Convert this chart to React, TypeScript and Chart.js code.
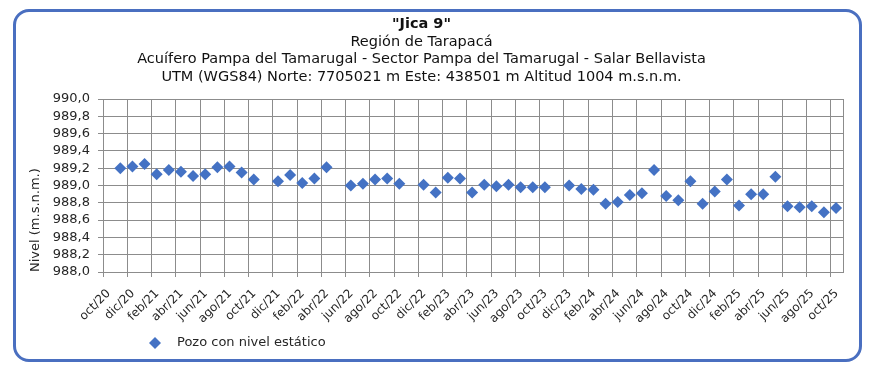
import React, { useEffect, useRef } from 'react';
import { Chart, registerables } from 'chart.js';

Chart.register(...registerables);

// ---- Chart content ----
const titleText = '"Jica 9"';
const subtitleLines = [
  'Región de Tarapacá',
  'Acuífero Pampa del Tamarugal - Sector Pampa del Tamarugal - Salar Bellavista',
  'UTM (WGS84) Norte: 7705021 m Este: 438501 m Altitud 1004 m.s.n.m.',
];
const seriesLabel = 'Pozo con nivel estático';
const yAxisTitle = 'Nivel (m.s.n.m.)';

// measurement dates (YYYY-MM-DD)
const measurementDates = [
  '2020-11-14', '2020-12-14', '2021-01-14', '2021-02-14', '2021-03-14', '2021-04-14',
  '2021-05-14', '2021-06-14', '2021-07-14', '2021-08-14', '2021-09-14', '2021-10-14',
  '2021-12-14', '2022-01-14', '2022-02-14', '2022-03-14', '2022-04-14',
  '2022-06-14', '2022-07-14', '2022-08-14', '2022-09-14', '2022-10-14',
  '2022-12-14', '2023-01-14', '2023-02-14', '2023-03-14', '2023-04-14', '2023-05-14',
  '2023-06-14', '2023-07-14', '2023-08-14', '2023-09-14', '2023-10-14',
  '2023-12-14', '2024-01-14', '2024-02-14', '2024-03-14', '2024-04-14', '2024-05-14',
  '2024-06-14', '2024-07-14', '2024-08-14', '2024-09-14', '2024-10-14', '2024-11-14',
  '2024-12-14', '2025-01-14', '2025-02-14', '2025-03-14', '2025-04-14', '2025-05-14',
  '2025-06-14', '2025-07-14', '2025-08-14', '2025-09-14', '2025-10-14',
];

// static level (m.s.n.m.)
const levels = [
  989.20, 989.22, 989.25, 989.13, 989.18, 989.16,
  989.11, 989.13, 989.21, 989.22, 989.15, 989.07,
  989.05, 989.12, 989.03, 989.08, 989.21,
  989.00, 989.02, 989.07, 989.08, 989.02,
  989.01, 988.92, 989.09, 989.08, 988.92, 989.01,
  988.99, 989.01, 988.98, 988.98, 988.98,
  989.00, 988.96, 988.95, 988.79, 988.81, 988.89,
  988.91, 989.18, 988.88, 988.83, 989.05, 988.79,
  988.93, 989.07, 988.77, 988.90, 988.90, 989.10,
  988.76, 988.75, 988.76, 988.69, 988.74,
];

const xTickLabels = [
  'oct/20', 'dic/20', 'feb/21', 'abr/21', 'jun/21', 'ago/21', 'oct/21', 'dic/21',
  'feb/22', 'abr/22', 'jun/22', 'ago/22', 'oct/22', 'dic/22', 'feb/23', 'abr/23',
  'jun/23', 'ago/23', 'oct/23', 'dic/23', 'feb/24', 'abr/24', 'jun/24', 'ago/24',
  'oct/24', 'dic/24', 'feb/25', 'abr/25', 'jun/25', 'ago/25', 'oct/25',
];

const yMin = 988.0;
const yMax = 990.0;
const yStep = 0.2;

// axis origin: 1 Oct 2020; axis end: 1 Nov 2025 (in months)
const originYear = 2020;
const originMonth = 10;
const xMaxMonths = 61;
const monthsPerTick = 2;

// ---- Styles ----
const FONT = 'DejaVu Sans';
const MARKER = '#4472C4';
const GRID = '#8c8c8c';
const TEXT = '#262626';
const FRAME = '#4a6fc0';

function monthOffset(date: string): number {
  const [y, m, d] = date.split('-').map(Number);
  return (y - originYear) * 12 + (m - originMonth) + (d - 1) / 30.5;
}

const fmtLevel = (v: number) => v.toFixed(1).replace('.', ',');

export default function App() {
  const canvasRef = useRef<HTMLCanvasElement | null>(null);

  useEffect(() => {
    document.body.style.margin = '0';
    const canvas = canvasRef.current;
    if (!canvas) return;

    const points = measurementDates.map((d, i) => ({ x: monthOffset(d), y: levels[i] }));
    const yTickCount = Math.round((yMax - yMin) / yStep) + 1;

    const framePlugin = {
      id: 'frameAndLegend',
      beforeDatasetsDraw(chart: any) {
        const { ctx, chartArea } = chart;
        ctx.save();
        ctx.strokeStyle = GRID;
        ctx.lineWidth = 1;
        ctx.strokeRect(
          Math.round(chartArea.left) + 0.5,
          Math.round(chartArea.top) + 0.5,
          Math.round(chartArea.right - chartArea.left),
          Math.round(chartArea.bottom - chartArea.top)
        );
        ctx.restore();
      },
      afterDraw(chart: any) {
        const { ctx } = chart;
        const ds = chart.data.datasets[0];
        const cx = 155;
        const cy = 343;
        const r = 6;
        ctx.save();
        ctx.fillStyle = ds.backgroundColor;
        ctx.beginPath();
        ctx.moveTo(cx - r, cy);
        ctx.lineTo(cx, cy - r);
        ctx.lineTo(cx + r, cy);
        ctx.lineTo(cx, cy + r);
        ctx.closePath();
        ctx.fill();
        ctx.fillStyle = TEXT;
        ctx.font = `13px "${FONT}"`;
        ctx.textBaseline = 'middle';
        ctx.textAlign = 'left';
        ctx.fillText(ds.label, 177, cy);
        ctx.restore();
      },
    };

    const chart = new Chart(canvas, {
      type: 'scatter',
      data: {
        datasets: [
          {
            label: seriesLabel,
            data: points,
            showLine: false,
            pointStyle: 'rectRot',
            pointRadius: 6,
            pointHoverRadius: 6,
            backgroundColor: MARKER,
            borderColor: MARKER,
            borderWidth: 0,
          },
        ],
      },
      options: {
        responsive: false,
        animation: false,
        events: [],
        layout: { padding: { left: 0, right: 32, top: 0, bottom: 33 } },
        plugins: {
          legend: { display: false },
          tooltip: { enabled: false },
          title: {
            display: true,
            text: titleText,
            color: '#111',
            font: { family: FONT, size: 14.5, weight: 'bold', lineHeight: 1.2 },
            padding: { top: 16, bottom: 0 },
          },
          subtitle: {
            display: true,
            text: subtitleLines,
            color: '#111',
            font: { family: FONT, size: 14.5, lineHeight: 1.2 },
            padding: { top: 0, bottom: 13.4 },
          },
        },
        scales: {
          x: {
            type: 'linear',
            min: 0,
            max: xMaxMonths,
            afterBuildTicks: (scale: any) => {
              scale.ticks = xTickLabels.map((_, i) => ({ value: i * monthsPerTick }));
            },
            afterFit: (scale: any) => {
              scale.height = 60;
            },
            ticks: {
              autoSkip: false,
              maxRotation: 45,
              minRotation: 45,
              padding: 9.5,
              labelOffset: 5.7,
              color: TEXT,
              font: { family: FONT, size: 12 },
              callback: (value: any) => xTickLabels[Math.round(Number(value) / monthsPerTick)] ?? '',
            },
            grid: { color: GRID, lineWidth: 1, tickLength: 5, drawTicks: true },
            border: { display: false },
          },
          y: {
            type: 'linear',
            min: yMin,
            max: yMax,
            afterBuildTicks: (scale: any) => {
              scale.ticks = Array.from({ length: yTickCount }, (_, i) => ({
                value: Number((yMin + i * yStep).toFixed(1)),
              }));
            },
            afterFit: (scale: any) => {
              scale.width = 103;
            },
            ticks: {
              autoSkip: false,
              padding: 8,
              color: TEXT,
              font: { family: FONT, size: 13 },
              callback: (value: any) => fmtLevel(Number(value)),
            },
            grid: { color: GRID, lineWidth: 1, tickLength: 5, drawTicks: true },
            border: { display: false },
            title: {
              display: true,
              text: yAxisTitle,
              align: 'start',
              color: TEXT,
              font: { family: FONT, size: 13 },
              padding: { top: 28, bottom: 0 },
            },
          },
        },
      },
      plugins: [framePlugin],
    } as any);

    return () => chart.destroy();
  }, []);

  return (
    <div style={{ position: 'relative', width: 875, height: 365, background: '#ffffff' }}>
      <div
        style={{
          position: 'absolute',
          left: 13,
          top: 9,
          width: 849,
          height: 353,
          boxSizing: 'border-box',
          border: `3px solid ${FRAME}`,
          borderRadius: 16,
        }}
      />
      <canvas
        ref={canvasRef}
        width={875}
        height={365}
        style={{ position: 'absolute', left: 0, top: 0, width: 875, height: 365 }}
      />
    </div>
  );
}
